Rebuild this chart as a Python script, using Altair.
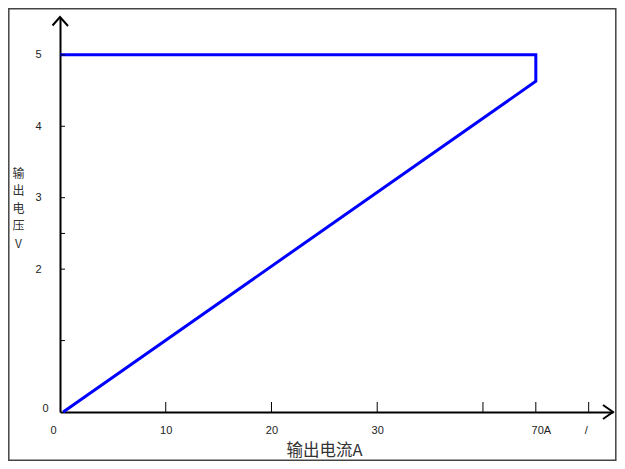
import altair as alt
import pandas as pd

# ---- data ----
curve_current = [0.3, 45, 45, 0]          # x (schematic units)
curve_voltage = [0, 4.63, 5, 5]           # y (V)
curve_order = [0, 1, 2, 3]

x_tick_values = [10, 20, 30, 40, 45, 50]
x_label_values = [0, 10, 20, 30, 45, 50]
y_tick_values = [1, 2, 2.5, 3, 4, 5]
y_label_values = [0, 2, 3, 4, 5]

x_end = 52.3      # end of x axis (arrow tip)
y_end = 5.53      # end of y axis (arrow tip)

x_title = "输出电流A"
y_title = ["输", "出", "电", "压", "V"]

# ---- tables ----
curve = pd.DataFrame({"x": curve_current, "y": curve_voltage, "o": curve_order})
xt = pd.DataFrame({"x": x_tick_values})
yt = pd.DataFrame({"y": y_tick_values})
x_arrow = pd.DataFrame({"x": [x_end], "y": [0]})
y_arrow = pd.DataFrame({"x": [0], "y": [y_end]})
frame = pd.DataFrame({"k": [0]})

W, H = 553, 395
xs = alt.Scale(domain=[0, x_end], nice=False, zero=False)
ys = alt.Scale(domain=[0, y_end], nice=False, zero=False)

label_font = "Liberation Sans"

x_axis = alt.Axis(
    values=x_label_values,
    labelExpr="datum.value == 45 ? '70A' : datum.value == 50 ? '/' : datum.label",
    ticks=False, tickSize=0, grid=False,
    domainColor="black", domainWidth=2,
    labelFont=label_font, labelFontSize=11, labelColor="#222",
    labelBaseline="middle", labelPadding=18,
    labelOffset={"condition": [{"test": "datum.value == 0", "value": -7},
                               {"test": "datum.value == 45", "value": 5},
                               {"test": "datum.value == 50", "value": -3}],
                 "value": 0},
    labelFlush=False, labelOverlap=False,
    title=x_title, titleFont="Noto Sans CJK SC", titleFontSize=16.5,
    titleFontWeight="normal", titleColor="#333",
    titleX=264, titleY=38, titleBaseline="middle", titleAlign="center",
)

y_axis = alt.Axis(
    values=y_label_values,
    ticks=False, tickSize=0, grid=False,
    domainColor="black", domainWidth=2,
    labelFont=label_font, labelFontSize=11, labelColor="#222",
    labelAlign="right", labelBaseline="middle",
    labelPadding={"condition": {"test": "datum.value == 0", "value": 12}, "value": 19},
    labelOffset={"condition": {"test": "datum.value == 0", "value": -4}, "value": 0},
    labelFlush=False, labelOverlap=False,
    title=y_title, titleFont="Noto Sans CJK SC", titleFontSize=12,
    titleFontWeight="normal", titleColor="#333", titleAngle=0,
    titleX=-42, titleY=156, titleAlign="center", titleBaseline="middle",
    titleLineHeight=17.6,
)

X = alt.X("x:Q", scale=xs, axis=x_axis)
Y = alt.Y("y:Q", scale=ys, axis=y_axis)

line = alt.Chart(curve).mark_line(color="#0000ff", strokeWidth=3, strokeJoin="miter").encode(
    x=X, y=Y, order="o:Q",
)

xticks = alt.Chart(xt).mark_rule(color="black", strokeWidth=1).encode(
    x=X, y=alt.value(H - 10), y2=alt.value(H),
)

yticks = alt.Chart(yt).mark_rule(color="black", strokeWidth=1).encode(
    y=Y, x=alt.value(0), x2=alt.value(5),
)

xarrow = alt.Chart(x_arrow).mark_point(
    shape="M-1,-0.7L0,0L-1,0.7", filled=False, size=400,
    stroke="black", strokeWidth=2, opacity=1,
).encode(x=X, y=Y)

yarrow = alt.Chart(y_arrow).mark_point(
    shape="M-0.75,0.85L0,0L0.8,0.9", filled=False, size=400,
    stroke="black", strokeWidth=2, opacity=1,
).encode(x=X, y=Y)

border = alt.Chart(frame).mark_rect(
    fillOpacity=0, stroke="#444", strokeWidth=1.5,
).encode(
    x=alt.value(-51.2), x2=alt.value(555.8),
    y=alt.value(-8.2), y2=alt.value(443.2),
)

chart = alt.layer(border, line, xticks, yticks, xarrow, yarrow).properties(
    width=W, height=H,
    autosize=alt.AutoSizeParams(type="none"),
    padding={"left": 52, "top": 9, "right": 4, "bottom": 49},
    background="white",
).configure_view(stroke=None)

chart.save("out.html", embed_options={"renderer": "svg", "actions": False})
